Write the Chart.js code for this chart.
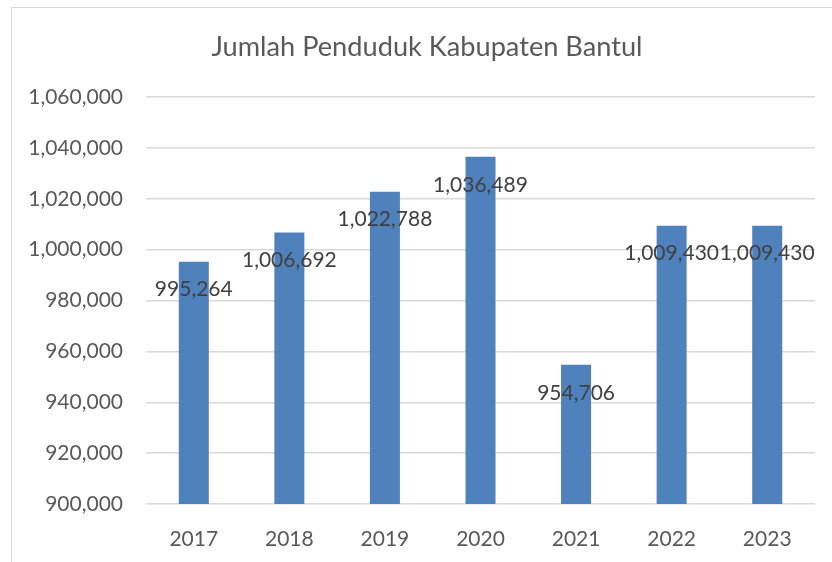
<!DOCTYPE html>
<html>
<head>
<meta charset="utf-8">
<script src="https://cdn.jsdelivr.net/npm/chart.js@4/dist/chart.umd.min.js"></script>
<style>
  html, body { margin: 0; padding: 0; background: #fff; overflow: hidden; }
  #frame { position: absolute; left: 11px; top: 7px; width: 900px; height: 600px;
           border-left: 1.5px solid #d9d9d9; border-top: 1.5px solid #d9d9d9; }
  #c { position: absolute; left: 0; top: 0; }
</style>
</head>
<body>
<div id="frame"></div>
<canvas id="c" width="832" height="562"></canvas>
<script>
const titleText = "Jumlah Penduduk Kabupaten Bantul";
const categories = ["2017", "2018", "2019", "2020", "2021", "2022", "2023"];
const population = [995264, 1006692, 1022788, 1036489, 954706, 1009430, 1009430];
const yMin = 900000, yMax = 1060000, yStep = 20000;

const FONT = "Lato, 'Liberation Sans', sans-serif";
const fmt = v => v.toLocaleString('en-US');

const labelPlugin = {
  id: 'barLabels',
  afterDatasetsDraw(chart) {
    const ctx = chart.ctx;
    const meta = chart.getDatasetMeta(0);
    ctx.save();
    ctx.font = "21px " + FONT;
    ctx.fillStyle = "#404040";
    ctx.textAlign = "center";
    ctx.textBaseline = "middle";
    meta.data.forEach((el, i) => {
      ctx.fillText(fmt(chart.data.datasets[0].data[i]), el.x, el.y + 28);
    });
    ctx.restore();
  }
};

const titlePlugin = {
  id: 'frameTitle',
  afterDraw(chart) {
    const ctx = chart.ctx;
    ctx.save();
    ctx.font = "27.2px " + FONT;
    ctx.fillStyle = "#595959";
    ctx.textAlign = "center";
    ctx.textBaseline = "middle";
    ctx.fillText(titleText, 427, 47);
    ctx.restore();
  }
};

new Chart(document.getElementById('c'), {
  type: 'bar',
  data: {
    labels: categories,
    datasets: [{
      data: population,
      backgroundColor: '#4F81BD',
      categoryPercentage: 1,
      barPercentage: 0.314
    }]
  },
  options: {
    responsive: false,
    devicePixelRatio: 1,
    animation: false,
    layout: { padding: { left: 0, right: 17, top: 97, bottom: 0 } },
    plugins: {
      legend: { display: false },
      tooltip: { enabled: false },
      title: { display: false }
    },
    scales: {
      x: {
        grid: { display: false },
        border: { display: false },
        ticks: { color: '#595959', font: { family: FONT, size: 21 }, padding: 15 },
        afterFit: s => { s.height = 58; }
      },
      y: {
        min: yMin, max: yMax,
        grid: { color: '#d9d9d9', lineWidth: 1.5, drawTicks: false },
        border: { display: false },
        ticks: {
          stepSize: yStep,
          color: '#595959',
          font: { family: FONT, size: 21 },
          padding: 23,
          callback: v => fmt(v)
        },
        afterFit: s => { s.width = 146; }
      }
    }
  },
  plugins: [labelPlugin, titlePlugin]
});
</script>
</body>
</html>
